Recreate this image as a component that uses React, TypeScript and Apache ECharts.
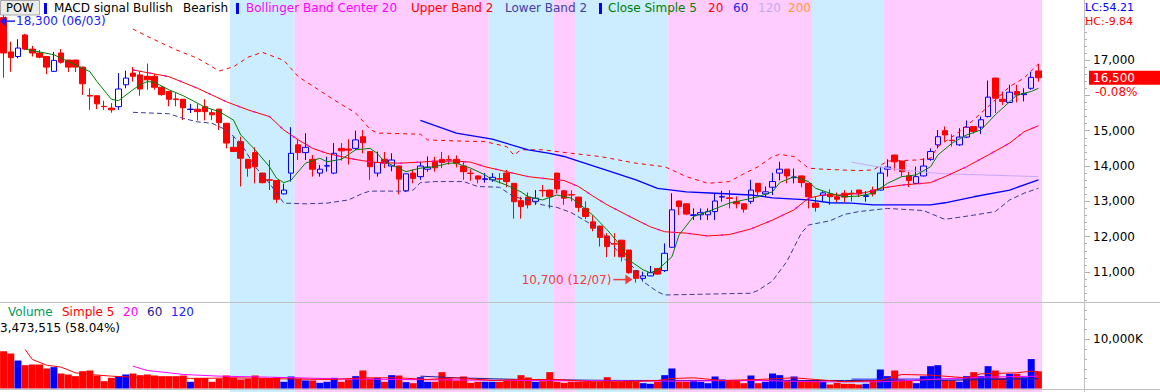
import { useEffect, useRef } from 'react';
import * as echarts from 'echarts';

// ---------- DATA ----------
// [open, close, low, high]
const candles: number[][] = [
  [18200,17200,16500,18300],[17230,17070,16670,17520],[17100,17340,17050,17590],[17710,17310,17280,17740],
  [17310,17200,17100,17400],[17200,17080,17050,17280],[17100,16800,16600,17120],[16680,16990,16660,17230],
  [17200,16940,16900,17310],[17000,16800,16660,17000],[17000,16800,16660,17010],[16800,16330,16010,16810],
  [16000,15980,15590,16200],[15990,15760,15610,16000],[15690,15680,15590,15850],[15640,15590,15510,15780],
  [15680,16180,15590,16630],[16300,16490,16200,16700],[16630,16540,16390,16800],[16580,16180,15990,16680],
  [16540,16440,16160,16900],[16540,16230,16160,16600],[16230,16020,15990,16260],[16110,15890,15690,16130],
  [15900,15880,15690,16060],[15890,15650,15300,15900],[15600,15610,15500,15760],[15610,15540,15290,15760],
  [15680,15540,15290,15890],[15510,15450,15300,15610],[15610,15230,15020,15620],[15210,14650,14500,15220],
  [14530,14410,14400,14860],[14690,14220,13420,14830],[14190,13940,13700,14200],[14380,13980,13510,14530],
  [13800,13530,13510,13810],[13610,13600,13320,14170],[13590,13060,12950,13600],[13210,13320,13200,13500],
  [13800,14360,13560,15100],[14600,14380,14170,14740],[14380,14530,14170,14930],[14190,13910,13700,14310],
  [13800,13910,13700,14030],[14000,14010,13840,14260],[13800,14360,13770,14650],[14500,14430,14150,14650],
  [14480,14450,14040,14760],[14500,14740,14450,15000],[14830,14660,14360,15020],[14410,13980,13610,14420],
  [13800,14100,13700,14410],[14190,14080,13940,14400],[14000,14170,13850,14360],[14000,13630,13200,14010],
  [13300,13780,13270,13790],[13800,13650,13510,13910],[13700,14000,13610,14120],[13910,13970,13840,14270],
  [14120,13950,13840,14260],[14190,14100,13940,14400],[14180,14170,14040,14300],[14190,14080,13960,14300],
  [14000,13840,13610,14120],[13800,13790,13580,13910],[13720,13630,13510,13730],[13620,13640,13530,13800],
  [13610,13680,13550,13800],[13640,13630,13510,13800],[13800,13560,13400,13890],[13510,12990,12510,13520],
  [13020,12850,12510,13130],[13120,12900,12800,13250],[13000,13090,12900,13320],[13310,13300,13130,13460],
  [13320,13130,12800,13330],[13800,13350,13220,13810],[13300,13090,12900,13310],[13190,13180,13000,13310],
  [13120,12830,12700,13130],[12800,12570,12500,13000],[12420,12240,12150,12600],[12300,11980,11720,12310],
  [12020,11720,11420,12100],[11800,11790,11430,12100],[11900,11430,11300,11910],[11620,10980,10950,11630],
  [11040,10820,10700,11060],[10820,10890,10730,11010],[10890,10980,10880,11170],[11100,10940,10920,11110],
  [11040,11530,11000,11810],[11700,12760,11690,13230],[13010,12850,12610,13020],[12930,12640,12610,12950],
  [12600,12620,12470,12800],[12620,12680,12470,12800],[12620,12710,12470,12800],[12710,13010,12470,13230],
  [13120,13140,12990,13300],[13100,13080,12800,13320],[12990,12930,12800,13140],[12930,12780,12680,12940],
  [13000,13320,12930,13610],[13510,13270,13180,13520],[13210,13270,13120,13420],[13400,13560,13180,13810],
  [13800,13910,13590,14120],[13910,13720,13510,13920],[13670,13690,13510,13930],[13720,13530,13400,13730],
  [13510,13130,12800,13520],[12950,12830,12710,13130],[13170,13240,12980,13290],[13210,13130,12900,13340],
  [13130,13060,12980,13250],[13230,13120,12980,13320],[13230,13220,13000,13320],[13320,13210,13120,13330],
  [13140,13160,12990,13290],[13320,13210,13140,13420],[13320,13800,13300,13980],[13910,13970,13700,14190],
  [14310,14120,13870,14320],[14140,13840,13700,14150],[13720,13590,13400,13840],[13510,13700,13500,13980],
  [13720,14000,13700,14220],[14190,14410,14150,14500],[14600,14830,14500,15020],[15000,14880,14690,15120],
  [14730,14720,14550,14900],[14600,14820,14570,15070],[14820,15100,14790,15290],[15120,14980,14920,15130],
  [15100,15310,14910,15400],[15400,15950,15380,16420],[16490,15920,15500,16500],[15890,15830,15730,16110],
  [15800,16090,15780,16300],[16110,16010,15800,16300],[16020,16050,15830,16200],[16200,16510,16160,16670],
  [16690,16500,16390,16890],
];

const volumes: number[] = [
  7590000,7115000,5690000,4740000,4880000,4880000,4070000,4340000,3050000,2850000,
  2510000,3520000,3660000,2640000,1490000,2170000,2510000,2850000,3050000,2710000,
  2850000,2640000,2510000,2510000,2510000,2640000,1360000,2170000,2170000,1360000,
  2030000,2640000,2170000,1830000,1970000,2640000,2030000,2030000,2300000,1360000,
  2440000,2030000,1630000,1630000,1150000,1360000,2170000,1360000,1830000,2510000,
  3660000,2030000,2170000,1360000,2710000,2640000,1290000,1080000,2300000,1360000,
  1360000,3320000,2030000,1630000,2440000,1150000,1360000,1360000,1360000,1360000,
  1630000,1630000,2710000,2240000,1360000,1490000,3320000,1360000,1150000,1360000,
  1360000,1360000,1360000,1360000,2300000,1360000,1360000,1360000,1360000,1080000,
  950000,1360000,2710000,4070000,1360000,1360000,1490000,1360000,1080000,2440000,
  1830000,1630000,1630000,1080000,2640000,1080000,1360000,3050000,2710000,1760000,
  2440000,1360000,1630000,1760000,1360000,810000,1150000,950000,950000,810000,
  950000,1490000,3860000,2510000,3660000,1830000,1630000,1080000,2510000,4540000,
  4740000,1630000,1630000,1360000,2510000,3320000,2510000,4540000,3660000,2170000,
  2980000,2980000,2300000,5985000,3473515,
];

// indicator lines: [candle index, value]
const closeMa5: number[][] = [
  [3,17310],[7,17150],[10,16860],[12,16675],[13,16390],[15,15890],[16,15850],[18,16160],[19,16300],[20,16390],
  [21,16370],[23,16160],[25,15990],[28,15670],[30,15540],[32,15300],[33,14880],[35,14460],[37,13980],[38,13650],
  [39,13530],[40,13600],[42,14080],[44,14220],[45,14120],[47,14190],[49,14460],[51,14500],[52,14360],[53,14120],
  [55,13940],[56,13840],[58,13940],[60,13980],[62,14080],[63,14080],[65,13940],[67,13750],[68,13610],[70,13460],
  [72,13270],[73,13130],[75,13040],[77,13180],[79,13090],[80,12950],[82,12610],[84,12190],[86,11720],[87,11340],
  [89,11060],[90,10980],[91,11060],[93,11430],[94,12050],[96,12570],[98,12710],[101,12950],[103,13040],[105,13130],
  [107,13270],[108,13530],[110,13700],[112,13560],[113,13370],[115,13230],[117,13130],[119,13150],[121,13230],
  [123,13510],[125,13700],[127,13750],[129,13980],[130,14310],[132,14650],[134,14880],[136,15020],[138,15450],
  [140,15820],[141,16010],[143,16110],[144,16200],
];
const closeMa20: number[][] = [
  [18,16720],[23,16530],[27,16200],[31,15820],[34,15590],[37,15400],[39,15020],[41,14740],[43,14500],[45,14360],
  [48,14220],[50,14150],[52,14100],[55,14080],[58,14110],[60,14140],[63,14140],[65,14110],[67,13980],[70,13840],
  [73,13700],[76,13630],[78,13590],[80,13420],[82,13150],[84,12900],[88,12480],[90,12280],[92,12140],[95,12100],
  [98,12020],[101,12060],[104,12220],[107,12470],[110,12760],[112,13090],[114,13180],[117,13180],[120,13250],
  [122,13370],[125,13460],[129,13530],[131,13700],[134,13980],[137,14310],[140,14650],[142,14970],[144,15140],
];
const upperBand: number[][] = [
  [18,17880],[20,17670],[24,17290],[27,17050],[30,16690],[32,16810],[34,17080],[36,17220],[39,16990],[41,16530],
  [46,15870],[49,15500],[51,15040],[52,14930],[53,14930],[58,14900],[59,14740],[63,14710],[67,14690],[70,14550],
  [71,14310],[72,14460],[75,14460],[79,14360],[83,14270],[88,14080],[92,13980],[95,13700],[98,13510],[101,13560],
  [103,13780],[105,13980],[107,14270],[108,14330],[110,14270],[112,13940],[114,13910],[119,13870],[121,13890],
  [123,14140],[127,14170],[129,14220],[130,14550],[133,14970],[135,15310],[138,15870],[140,16250],[142,16490],
  [144,16890],
];
const lowerBand: number[][] = [
  [18,15520],[23,15480],[25,15350],[27,15250],[29,15210],[31,15020],[33,14650],[35,13980],[37,13510],[39,12950],
  [42,12930],[45,12950],[48,13040],[50,13230],[51,13290],[56,13290],[57,13320],[58,13530],[60,13560],[64,13560],
  [66,13420],[69,13400],[71,13130],[73,13040],[75,12900],[77,12830],[79,12680],[83,12200],[86,11450],[88,11060],
  [89,10730],[91,10440],[92,10350],[97,10370],[104,10400],[105,10480],[107,10750],[109,11300],[111,12100],
  [112,12330],[115,12450],[117,12630],[119,12710],[123,12800],[128,12740],[130,12570],[131,12490],[135,12610],
  [138,12710],[140,13040],[142,13230],[144,13370],
];
const closeMa60: number[][] = [
  [58,15290],[63,14930],[68,14760],[73,14460],[76,14360],[78,14270],[80,14140],[83,13940],[88,13610],[91,13370],
  [95,13270],[99,13230],[104,13180],[107,13100],[112,13040],[115,12960],[118,12950],[121,12900],[129,12900],
  [131,12960],[135,13130],[140,13320],[144,13610],
];
const closeMa120: number[][] = [
  [118,14110],[121,14000],[125,13890],[129,13810],[132,13770],[136,13750],[144,13700],
];
const volumeMa5: number[][] = [
  [3,7930000],[4,5900000],[6,4740000],[8,4340000],[10,3190000],[12,2850000],[15,2510000],[18,2300000],
  [23,2170000],[27,2030000],[32,2170000],[37,2030000],[41,1900000],[46,1830000],[50,2170000],[55,2170000],
  [59,1830000],[63,2170000],[68,1630000],[72,1830000],[77,1830000],[82,1360000],[86,1360000],[91,1630000],
  [93,2030000],[96,2170000],[100,1630000],[105,1830000],[110,2170000],[113,1830000],[117,1360000],[122,1630000],
  [125,2850000],[129,2710000],[134,2170000],[136,2980000],[141,3190000],[143,3520000],[144,3450000],
];
const volumeMa20: number[][] = [
  [18,4540000],[20,3660000],[23,3190000],[25,2850000],[30,2510000],[37,2300000],[41,2170000],[46,1970000],
  [55,1830000],[72,1630000],[91,1490000],[105,1630000],[113,1360000],[122,1360000],[129,1830000],[136,2300000],
  [144,2510000],
];
const volumeMa60: number[][] = [
  [58,2510000],[63,2170000],[72,1830000],[86,1630000],[100,1630000],[117,1630000],[131,1630000],[144,2030000],
];
const volumeMa120: number[][] = [[118,1900000],[144,1950000]];

// MACD signal background bands
const bandStart = [32, 41, 68, 77, 80, 93, 113, 123];
const bandEnd = [40, 67, 76, 79, 92, 112, 122, 144];
const bandSignal = ['Bearish', 'Bullish', 'Bearish', 'Bullish', 'Bearish', 'Bullish', 'Bearish', 'Bullish'];

const priceTicks = [11000, 12000, 13000, 14000, 15000, 16000, 17000, 18000];
// 16,000 and 18,000 sit under the last-price and HC labels in the reference
const priceLabels = [11000, 12000, 13000, 14000, 15000, 17000];
const volumeLabelTicks = [10000000];
const volumeMinorTicks = [2000000, 4000000, 6000000, 8000000, 12000000, 14000000, 16000000];

const highPoint = { index: 0, value: 18300, date: '06/03' };
const lowPoint = { index: 88, value: 10700, date: '12/07' };
const lastChange = '-0.08%';
const lcText = 'LC:54.21';
const hcText = 'HC:-9.84';
const volumeRatio = '58.04%';

const categories = candles.map((_, i) => String(i));

// ---------- STYLE ----------
const FONT = 'DejaVu Sans';
const UP = '#0000ff';
const DOWN = '#ff0000';
const PINK = '#ffccff';
const SKY = '#ccecff';
const GRAY = '#c0c0c0';

const fmt = (v: number) => v.toLocaleString('en-US');

function text(x: number, y: number, t: string, fill: string, extra: any = {}) {
  return {
    type: 'text', x, y, z: 100,
    style: { text: t, fill, fontSize: 12, fontFamily: FONT, verticalAlign: 'middle', align: 'left', ...extra },
  };
}

function buildOption(): any {
  const lineSeries = (name: string, data: number[][], color: string, extra: any = {}, grid = 0) => ({
    name, type: 'line', data, xAxisIndex: grid, yAxisIndex: grid === 0 ? 0 : 1,
    symbol: 'none', showSymbol: false, z: 3, silent: true,
    lineStyle: { color, width: 1, ...extra },
  });
  return {
    animation: false,
    textStyle: { fontFamily: FONT },
    grid: [
      { left: 0, top: 0, width: 1042, height: 307.33 },
      { left: 0, top: 302, width: 1042, height: 86.5 },
    ],
    xAxis: [
      { type: 'category', gridIndex: 0, data: categories, boundaryGap: true, show: false },
      { type: 'category', gridIndex: 1, data: categories, boundaryGap: true, show: false },
    ],
    yAxis: [
      {
        type: 'value', gridIndex: 0, position: 'right', offset: 42, min: 10000, max: 18700, interval: 1000,
        axisLine: { show: false },
        axisTick: { show: true, inside: false, length: 6, customValues: priceTicks, lineStyle: { color: '#b0b0b0' } },
        minorTick: { show: true, splitNumber: 5, length: 3, lineStyle: { color: '#b0b0b0' } },
        axisLabel: { show: true, customValues: priceLabels, margin: 9, color: '#000', fontSize: 12, fontFamily: FONT, formatter: (v: number) => fmt(v) },
        splitLine: { show: false },
        minorSplitLine: { show: false },
      },
      {
        type: 'value', gridIndex: 1, position: 'right', offset: 42, min: 0, max: 17580000, interval: 2000000,
        axisLine: { show: false },
        axisTick: { show: true, length: 6, customValues: volumeLabelTicks, lineStyle: { color: '#b0b0b0' } },
        axisLabel: { show: true, customValues: volumeLabelTicks, margin: 9, color: '#000', fontSize: 12, fontFamily: FONT, formatter: (v: number) => fmt(v / 1000) + 'K' },
        splitLine: { show: false },
      },
      {
        type: 'value', gridIndex: 1, position: 'right', offset: 42, min: 0, max: 17580000, interval: 2000000,
        axisLine: { show: false },
        axisTick: { show: true, length: 3, customValues: volumeMinorTicks, lineStyle: { color: '#b0b0b0' } },
        axisLabel: { show: false },
        splitLine: { show: false },
      },
    ],
    series: [
      {
        type: 'custom', name: 'MACD signal', xAxisIndex: 0, yAxisIndex: 0, z: 0, clip: false, silent: true,
        data: bandStart.map((s, k) => [s, bandEnd[k], k]),
        encode: { x: [0, 1] },
        renderItem: (params: any, api: any) => {
          const s = api.coord([api.value(0), 15000]);
          const e = api.coord([api.value(1), 15000]);
          const bw = api.size([1, 0])[0];
          return {
            type: 'rect',
            shape: { x: s[0] - bw / 2, y: 0, width: e[0] - s[0] + bw, height: 392 },
            style: { fill: bandSignal[params.dataIndex] === 'Bullish' ? PINK : SKY },
          };
        },
      },
      {
        type: 'candlestick', name: 'POW', xAxisIndex: 0, yAxisIndex: 0, z: 2, barWidth: 6, silent: true,
        data: candles,
        itemStyle: { color: 'rgba(0,0,0,0)', color0: DOWN, borderColor: UP, borderColor0: DOWN, borderWidth: 1 },
      },
      lineSeries('Lower Band 2', lowerBand, '#3a3a9a', { type: [5, 3] }),
      lineSeries('Upper Band 2', upperBand, '#ff0000', { type: [4, 4] }),
      lineSeries('Simple 120', closeMa120, '#c8a8f4'),
      lineSeries('Simple 60', closeMa60, '#0000ff', { width: 1.3 }),
      lineSeries('Simple 20', closeMa20, '#ff0000'),
      lineSeries('Bollinger Band Center 20', closeMa20, '#ff00ff', { type: [2, 14], width: 1.5 }),
      lineSeries('Simple 5', closeMa5, '#008000'),
      {
        type: 'bar', name: 'Volume', xAxisIndex: 1, yAxisIndex: 1, barWidth: 7, z: 2, silent: true,
        data: volumes.map((v, i) => ({ value: v, itemStyle: { color: candles[i][1] >= candles[i][0] ? UP : DOWN } })),
      },
      lineSeries('Vol 120', volumeMa120, '#2020ff', {}, 1),
      lineSeries('Vol 60', volumeMa60, '#202090', {}, 1),
      lineSeries('Vol 20', volumeMa20, '#ff00ff', {}, 1),
      lineSeries('Vol 5', volumeMa5, '#ff0000', {}, 1),
    ],
  };
}

export default function App() {
  const ref = useRef<HTMLDivElement>(null);
  useEffect(() => {
    const chart = echarts.init(ref.current!, null, { renderer: 'svg' });
    chart.setOption(buildOption());

    const x0 = chart.convertToPixel({ xAxisIndex: 0 }, 0) as number;
    const x1 = chart.convertToPixel({ xAxisIndex: 0 }, 1) as number;
    const bw = x1 - x0;
    const hp = chart.convertToPixel({ xAxisIndex: 0, yAxisIndex: 0 }, [highPoint.index, highPoint.value]) as number[];
    const lp = chart.convertToPixel({ xAxisIndex: 0, yAxisIndex: 0 }, [lowPoint.index, lowPoint.value]) as number[];
    const last = candles[candles.length - 1];
    const cy = chart.convertToPixel({ yAxisIndex: 0 }, last[1]) as number;

    const htx = hp[0] - bw / 2;
    const hty = hp[1] + 7;
    const ltx = lp[0] - bw / 2;
    const lty = lp[1] - 3;

    const elements: any[] = [
      // panel frame lines
      { type: 'line', z: 95, shape: { x1: 0, y1: 302.5, x2: 1160, y2: 302.5 }, style: { stroke: GRAY, lineWidth: 1 } },
      { type: 'line', z: 95, shape: { x1: 0, y1: 389.5, x2: 1160, y2: 389.5 }, style: { stroke: GRAY, lineWidth: 1 } },
      { type: 'line', z: 95, shape: { x1: 1084.5, y1: 0, x2: 1084.5, y2: 392 }, style: { stroke: GRAY, lineWidth: 1 } },
      // top legend
      { type: 'rect', z: 99, shape: { x: 0.5, y: 0.5, width: 39, height: 14.5 }, style: { fill: '#ececec', stroke: '#a8a8a8', lineWidth: 1 } },
      text(6, 8, 'POW', '#000', { fontSize: 11.5 }),
      { type: 'rect', z: 100, shape: { x: 44, y: 3, width: 3, height: 11 }, style: { fill: '#0000ff' } },
      text(54, 8, 'MACD signal Bullish', '#000'),
      text(183, 8, 'Bearish', '#000'),
      { type: 'rect', z: 100, shape: { x: 236, y: 3, width: 3, height: 11 }, style: { fill: '#0000ff' } },
      text(246, 8, 'Bollinger Band Center 20', '#ff00ff'),
      text(411, 8, 'Upper Band 2', '#ff0000'),
      text(505, 8, 'Lower Band 2', '#4040a8'),
      { type: 'rect', z: 100, shape: { x: 599, y: 3, width: 3, height: 11 }, style: { fill: '#0000ff' } },
      text(608, 8, 'Close Simple 5', '#008000'),
      text(708, 8, '20', '#ff0000'),
      text(733, 8, '60', '#2020e0'),
      text(758, 8, '120', '#c8a8f4'),
      text(788, 8, '200', '#ff9a30'),
      // volume legend
      text(8, 312, 'Volume', '#00995a'),
      text(62, 312, 'Simple 5', '#ff0000'),
      text(123, 312, '20', '#ff00ff'),
      text(147, 312, '60', '#202090'),
      text(171, 312, '120', '#2020ff'),
      text(0, 328, `${fmt(volumes[volumes.length - 1])} (${volumeRatio})`, '#000'),
      // high label
      { type: 'polygon', z: 100, shape: { points: [[htx, hty], [htx + 6, hty - 5], [htx + 6, hty + 5]] }, style: { fill: '#2020ff' } },
      { type: 'line', z: 100, shape: { x1: htx + 5, y1: hty, x2: htx + 15, y2: hty }, style: { stroke: '#2020ff', lineWidth: 1.5 } },
      text(htx + 16, hty, `${fmt(highPoint.value)} (${highPoint.date})`, '#2020ff'),
      // low label
      { type: 'polygon', z: 100, shape: { points: [[ltx, lty], [ltx - 7, lty - 5], [ltx - 7, lty + 5]] }, style: { fill: '#f03c3c' } },
      { type: 'line', z: 100, shape: { x1: ltx - 19, y1: lty, x2: ltx - 5, y2: lty }, style: { stroke: '#f03c3c', lineWidth: 1.5 } },
      text(ltx - 21, lty, `${fmt(lowPoint.value)} (${lowPoint.date})`, '#f03c3c', { align: 'right' }),
      // right side labels
      text(1085, 7, lcText, '#0000ff', { fontSize: 11 }),
      text(1085, 21, hcText, '#ff0000', { fontSize: 11 }),
      { type: 'rect', z: 99, shape: { x: 1089, y: cy - 7, width: 71, height: 14 }, style: { fill: '#ff0000' } },
      text(1093, cy, fmt(last[1]), '#ffffff'),
      text(1095, cy + 14.5, lastChange, '#ff0000'),
    ];
    chart.setOption({ graphic: elements });
    return () => chart.dispose();
  }, []);
  return <div ref={ref} style={{ position: 'absolute', left: 0, top: 0, width: 1160, height: 392 }} />;
}
